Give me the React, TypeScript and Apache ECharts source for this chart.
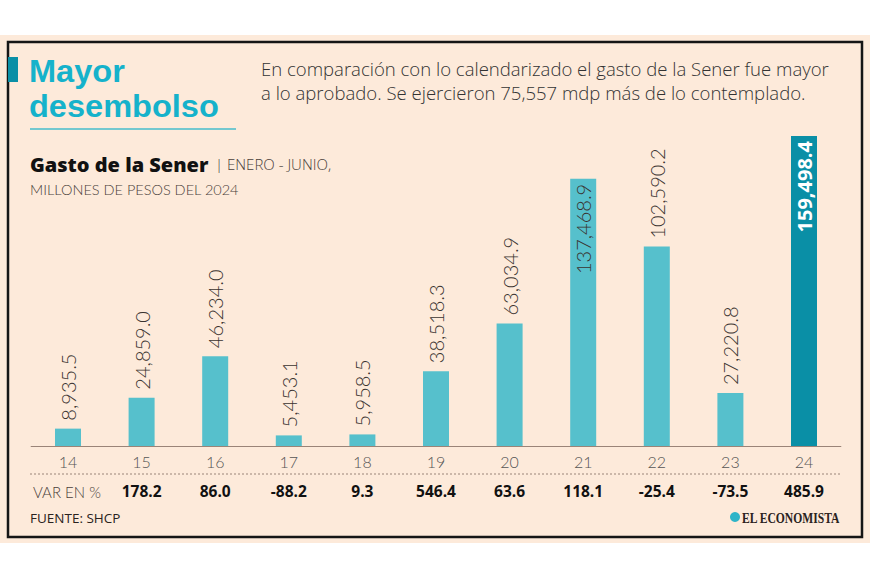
import React, { useEffect, useRef } from "react";
import * as echarts from "echarts";

const years = ["14", "15", "16", "17", "18", "19", "20", "21", "22", "23", "24"];
const gasto = [8935.5, 24859.0, 46234.0, 5453.1, 5958.5, 38518.3, 63034.9, 137468.9, 102590.2, 27220.8, 159498.4];
// variation (%) for years 15..24
const variacion = ["178.2", "86.0", "-88.2", "9.3", "546.4", "63.6", "118.1", "-25.4", "-73.5", "485.9"];
// labels inside bars
const insideIdx = [7];
const highlightIdx = 10;

const TEAL = "#56c0cc";
const DARK_TEAL = "#0a8fa6";
const TITLE_TEAL = "#15b2cb";
const BEIGE = "#fdeada";
const TEXT = "#3a3330";
const FONT = "Lato, 'Noto Sans', sans-serif";
const OFONT = "'Open Sans', 'Noto Sans', sans-serif";

const fmt = (v: number) =>
  v.toLocaleString("en-US", { minimumFractionDigits: 1, maximumFractionDigits: 1 });

export default function App() {
  const ref = useRef<HTMLDivElement>(null);
  useEffect(() => {
    document.body.style.margin = "0";
    if (!ref.current) return;
    const chart = echarts.init(ref.current, undefined, { renderer: "svg" });

    const data = gasto.map((v, i) => {
      if (i === highlightIdx) {
        return {
          value: v,
          itemStyle: { color: DARK_TEAL },
          label: {
            position: "insideTop",
            rotate: 90,
            align: "right",
            verticalAlign: "middle",
            distance: 5,
            color: "#ffffff",
            fontWeight: "bold",
            fontSize: 20,
            fontFamily: OFONT,
          },
        };
      }
      if (insideIdx.includes(i)) {
        return {
          value: v,
          label: {
            position: "insideTop",
            rotate: 90,
            align: "right",
            verticalAlign: "middle",
            distance: 5,
          },
        };
      }
      return { value: v };
    });

    const varCats = years.map((_, i) => (i === 0 ? "" : variacion[i - 1]));

    chart.setOption({
      animation: false,
      backgroundColor: "#ffffff",
      grid: { left: 31.2, right: 29.2, top: 136, bottom: 134 },
      xAxis: [
        {
          type: "category",
          data: years,
          axisLine: { lineStyle: { color: "#9a8478", width: 1.2 } },
          axisTick: { show: false },
          axisLabel: { color: "#555", fontSize: 16, fontFamily: FONT, fontWeight: 300, margin: 7 },
        },
        {
          type: "category",
          data: varCats,
          position: "bottom",
          axisLine: { show: false },
          axisTick: { show: false },
          axisLabel: { color: "#111", fontSize: 15.5, fontFamily: OFONT, fontWeight: "bold", margin: 37 },
        },
      ],
      yAxis: { type: "value", min: 0, max: 159498.4, show: false, splitLine: { show: false } },
      series: [
        {
          type: "bar",
          data,
          barWidth: 26,
          itemStyle: { color: TEAL },
          label: {
            show: true,
            position: "top",
            rotate: 90,
            align: "left",
            verticalAlign: "middle",
            distance: 8,
            color: TEXT,
            fontSize: 20,
            fontWeight: 300,
            fontFamily: FONT,
            formatter: (p: any) => fmt(p.value),
          },
        },
      ],
      graphic: [
        { type: "rect", z: -10, shape: { x: 0, y: 35, width: 870, height: 508 }, style: { fill: BEIGE } },
        {
          type: "rect",
          z: -9,
          shape: { x: 8, y: 42, width: 854, height: 495 },
          style: { fill: "none", stroke: "#151515", lineWidth: 2.5 },
        },
        { type: "rect", z: 5, shape: { x: 8, y: 57, width: 10, height: 25 }, style: { fill: DARK_TEAL } },
        {
          type: "text",
          x: 29,
          y: 71,
          scaleX: 1.05,
          style: {
            text: "Mayor",
            fill: TITLE_TEAL,
            font: `bold 31px 'Liberation Sans', Arial, sans-serif`,
            verticalAlign: "middle",
          },
        },
        {
          type: "text",
          x: 29,
          y: 106,
          scaleX: 1.05,
          style: {
            text: "desembolso",
            fill: TITLE_TEAL,
            font: `bold 31px 'Liberation Sans', Arial, sans-serif`,
            verticalAlign: "middle",
          },
        },
        {
          type: "line",
          shape: { x1: 30, y1: 129, x2: 236, y2: 129 },
          style: { stroke: "#46bccb", lineWidth: 1.5 },
        },
        {
          type: "text",
          x: 261,
          y: 69,
          scaleX: 1.06,
          style: {
            text: "En comparación con lo calendarizado el gasto de la Sener fue mayor",
            fill: "#333",
            font: `300 17.5px ${OFONT}`,
            verticalAlign: "middle",
          },
        },
        {
          type: "text",
          x: 261,
          y: 93,
          scaleX: 1.06,
          style: {
            text: "a lo aprobado. Se ejercieron 75,557 mdp más de lo contemplado.",
            fill: "#333",
            font: `300 17.5px ${OFONT}`,
            verticalAlign: "middle",
          },
        },
        {
          type: "text",
          x: 30,
          y: 164,
          style: {
            text: "{b|Gasto de la Sener}  {l|| ENERO - JUNIO,}",
            verticalAlign: "middle",
            rich: {
              b: { font: `800 20px ${OFONT}`, fill: "#111", color: "#111" },
              l: { font: `300 15px ${OFONT}`, fill: "#4a3f3a", color: "#4a3f3a" },
            },
          },
        },
        {
          type: "text",
          x: 30,
          y: 189,
          style: {
            text: "MILLONES DE PESOS DEL 2024",
            fill: "#4a3f3a",
            font: `300 14.5px ${FONT}`,
            verticalAlign: "middle",
          },
        },
        {
          type: "line",
          shape: { x1: 30, y1: 474, x2: 840, y2: 474 },
          style: { stroke: "#9a8478", lineWidth: 1, lineDash: [2, 2] },
        },
        {
          type: "text",
          x: 33,
          y: 492,
          style: { text: "VAR EN %", fill: "#4a3f3a", font: `300 15px ${FONT}`, verticalAlign: "middle" },
        },
        {
          type: "text",
          x: 30,
          y: 518,
          style: { text: "FUENTE: SHCP", fill: "#2a2220", font: `400 13.5px ${OFONT}`, verticalAlign: "middle" },
        },
        { type: "circle", shape: { cx: 735, cy: 517, r: 5 }, style: { fill: "#2fb4c8" } },
        {
          type: "text",
          x: 742,
          y: 518,
          scaleX: 0.8,
          style: {
            text: "EL ECONOMISTA",
            fill: "#2a2220",
            font: `bold 14.5px 'Liberation Serif', serif`,
            verticalAlign: "middle",
          },
        },
      ],
    });
    return () => chart.dispose();
  }, []);
  return <div ref={ref} style={{ width: 870, height: 580 }} />;
}
